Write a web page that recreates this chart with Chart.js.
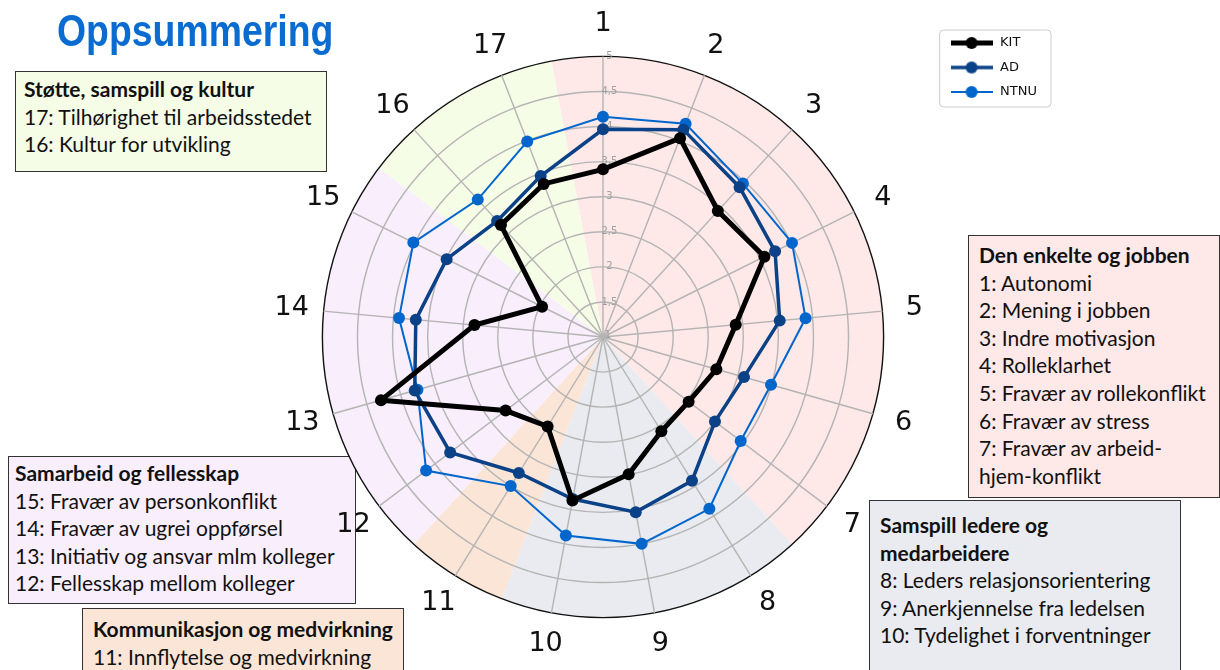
<!DOCTYPE html>
<html>
<head>
<meta charset="utf-8">
<script src="https://cdn.jsdelivr.net/npm/chart.js@4.4.1/dist/chart.umd.min.js"></script>
<style>
    body { margin: 0; background: #fff; width: 1220px; height: 670px; overflow: hidden; position: relative; }
    #wrap { position: absolute; left: 0; top: 0; width: 1220px; height: 670px; z-index: 2; }
    .title { position: absolute; left: 57px; top: 6px; z-index: 3; font-family: "Liberation Sans", Arial, sans-serif;
        font-weight: bold; font-size: 44px; color: #0a6bd1; transform: scaleX(0.85); transform-origin: left top; white-space: nowrap; }
    .box { position: absolute; z-index: 1; border: 1.5px solid #333; box-sizing: border-box;
        font-family: Lato, "Open Sans", sans-serif; font-size: 21px; color: #111; line-height: 27.6px; white-space: nowrap; }
    .box b { font-weight: bold; }
</style>
</head>
<body>
<div class="title">Oppsummering</div>

<div class="box" style="left:15px; top:71px; width:312px; height:101px; background:#f5fde7; padding:3px 0 0 8px;">
    <b>Støtte, samspill og kultur</b><br>17: Tilhørighet til arbeidsstedet<br>16: Kultur for utvikling
</div>
<div class="box" style="left:968px; top:235px; width:252px; height:263px; background:#fee8e8; padding:5px 0 0 10px;">
    <b>Den enkelte og jobben</b><br>1: Autonomi<br>2: Mening i jobben<br>3: Indre motivasjon<br>4: Rolleklarhet<br>5: Fravær av rollekonflikt<br>6: Fravær av stress<br>7: Fravær av arbeid-<br>hjem-konflikt
</div>
<div class="box" style="left:869px; top:500px; width:312px; height:180px; background:#e9ebf0; padding:10px 0 0 10px;">
    <b>Samspill ledere og</b><br><b>medarbeidere</b><br>8: Leders relasjonsorientering<br>9: Anerkjennelse fra ledelsen<br>10: Tydelighet i forventninger
</div>
<div class="box" style="left:8px; top:456px; width:348px; height:148px; background:#f9eefc; padding:2px 0 0 6px;">
    <b>Samarbeid og fellesskap</b><br>15: Fravær av personkonflikt<br>14: Fravær av ugrei oppførsel<br>13: Initiativ og ansvar mlm kolleger<br>12: Fellesskap mellom kolleger
</div>
<div class="box" style="left:82px; top:608px; width:322px; height:80px; background:#fbe5d6; padding:6px 0 0 10px;">
    <b>Kommunikasjon og medvirkning</b><br>11: Innflytelse og medvirkning
</div>

<div id="wrap"><canvas id="radar" width="1220" height="670"></canvas></div>

<script>
// DATA
const categories = ["1", "2", "3", "4", "5", "6", "7", "8", "9", "10", "11", "12", "13", "14", "15", "16", "17"];
const seriesNames = ["KIT", "AD", "NTNU"];
const kitValues = [3.39, 4.04, 3.43, 3.57, 2.90, 2.68, 2.53, 2.58, 2.99, 3.37, 2.50, 2.74, 4.29, 2.84, 1.97, 3.16, 3.34];
const adValues = [3.96, 4.17, 3.89, 3.74, 3.53, 3.09, 3.00, 3.41, 3.54, 3.35, 3.28, 3.73, 3.79, 3.68, 3.49, 3.24, 3.46];
const ntnuValues = [4.14, 4.26, 3.96, 4.01, 3.90, 3.49, 3.46, 3.88, 4.00, 3.88, 3.50, 4.16, 3.75, 3.92, 4.02, 3.65, 3.99];
const tickLabels = ["1", "1,5", "2", "2,5", "3", "3,5", "4", "4,5", "5"];
// first and last category index of each group (sectors behind the chart)
const groupFirst = [0, 7, 10, 11, 15];
const groupLast = [6, 9, 10, 14, 16];
// DATA

const groupColors = ["#fee8e8", "#e9ebf0", "#fbe5d6", "#f9eefc", "#f5fde7"];
const seriesColors = ["#000000", "#0b4187", "#0066cc"];
const seriesWidths = [5, 3.5, 2];

// LEGEND ICONS (line with a dot)
function makeIcon(color, lineWidth) {
    const c = document.createElement("canvas");
    c.width = 42;
    c.height = 16;
    const g = c.getContext("2d");
    g.strokeStyle = color;
    g.lineWidth = lineWidth;
    g.beginPath();
    g.moveTo(0, 8);
    g.lineTo(42, 8);
    g.stroke();
    g.fillStyle = color;
    g.beginPath();
    g.arc(21, 8, 6, 0, Math.PI * 2);
    g.fill();
    return c;
}
const icons = seriesColors.map((c, i) => makeIcon(c, seriesWidths[i]));

// SECTORS BEHIND THE GRID, CENTRED AXIS NUMBERS, LEGEND FRAME
const sectorPlugin = {
    id: "sectors",
    beforeDraw(chart) {
        const s = chart.scales.r;
        const ctx = chart.ctx;
        const half = Math.PI / categories.length;
        ctx.save();
        groupFirst.forEach((first, i) => {
            const a0 = s.getIndexAngle(first) - Math.PI / 2 - half;
            const a1 = s.getIndexAngle(groupLast[i]) - Math.PI / 2 + half;
            ctx.beginPath();
            ctx.moveTo(s.xCenter, s.yCenter);
            ctx.arc(s.xCenter, s.yCenter, s.drawingArea, a0, a1);
            ctx.closePath();
            ctx.fillStyle = groupColors[i];
            ctx.fill();
        });
        ctx.restore();
    },
    afterDraw(chart) {
        const s = chart.scales.r;
        const ctx = chart.ctx;
        ctx.save();
        // axis numbers centred on their spoke, like the original
        ctx.font = "27px 'DejaVu Sans'";
        ctx.fillStyle = "#111111";
        ctx.textAlign = "center";
        ctx.textBaseline = "middle";
        categories.forEach((label, i) => {
            const p = s.getPointPosition(i, s.drawingArea + 32);
            ctx.fillText(label, p.x, p.y);
        });
        // lowest tick sits on the centre
        ctx.font = "10px 'DejaVu Sans'";
        ctx.fillStyle = "#a0a0a0";
        ctx.fillText(tickLabels[0], s.xCenter + 5, s.yCenter - 2);

        const hb = chart.legend.legendHitBoxes;
        if (hb && hb.length) {
            const left = hb[0].left - 10;
            const top = hb[0].top - 6.5;
            const right = Math.max(...hb.map((h) => h.left + h.width)) + 14;
            const last = hb[hb.length - 1];
            const bottom = last.top + last.height + 8.5;
            ctx.strokeStyle = "#cccccc";
            ctx.lineWidth = 1;
            ctx.beginPath();
            ctx.roundRect(left, top, right - left, bottom - top, 4);
            ctx.stroke();
        }
        ctx.restore();
    },
};

const ctx = document.getElementById("radar").getContext("2d");
new Chart(ctx, {
    type: "radar",
    data: {
        labels: categories,
        datasets: [
            { label: seriesNames[0], data: kitValues },
            { label: seriesNames[1], data: adValues },
            { label: seriesNames[2], data: ntnuValues },
        ].map((d, i) => Object.assign(d, {
            borderColor: seriesColors[i],
            backgroundColor: seriesColors[i],
            pointBackgroundColor: seriesColors[i],
            pointBorderWidth: 0,
            pointRadius: 6,
            borderWidth: seriesWidths[i],
            fill: false,
        })),
    },
    options: {
        responsive: false,
        animation: false,
        devicePixelRatio: 1,
        layout: { padding: { left: 252, right: 173, top: 0, bottom: 0 } },
        scales: {
            r: {
                min: 1,
                max: 5,
                ticks: {
                    stepSize: 0.5,
                    showLabelBackdrop: false,
                    backdropPadding: 0,
                    color: "#a0a0a0",
                    font: { size: 10, family: "DejaVu Sans" },
                    callback: function (value, index) {
                        return "    " + tickLabels[index];
                    },
                },
                grid: {
                    circular: true,
                    lineWidth: 1.4,
                    color: function (c) {
                        return c.tick && c.tick.value === 5 ? "#111111" : "#b4b4b4";
                    },
                },
                angleLines: { color: "#b4b4b4", lineWidth: 1.4 },
                // kept for the layout fit; the visible numbers are drawn centred by the plugin
                pointLabels: {
                    padding: 17,
                    color: "rgba(0,0,0,0)",
                    font: { size: 27, family: "DejaVu Sans" },
                },
            },
        },
        plugins: {
            tooltip: { enabled: false },
            legend: {
                position: "right",
                align: "start",
                title: { display: true, text: "", font: { size: 12 }, padding: { top: 10.6, bottom: 0 } },
                labels: {
                    usePointStyle: true,
                    pointStyleWidth: 44,
                    padding: 11.5,
                    color: "#111111",
                    font: { size: 13, family: "DejaVu Sans" },
                    generateLabels: function (chart) {
                        return Chart.defaults.plugins.legend.labels.generateLabels(chart).map(function (item, i) {
                            item.pointStyle = icons[i];
                            item.lineWidth = 0;
                            return item;
                        });
                    },
                },
            },
        },
    },
    plugins: [sectorPlugin],
});
</script>
</body>
</html>
